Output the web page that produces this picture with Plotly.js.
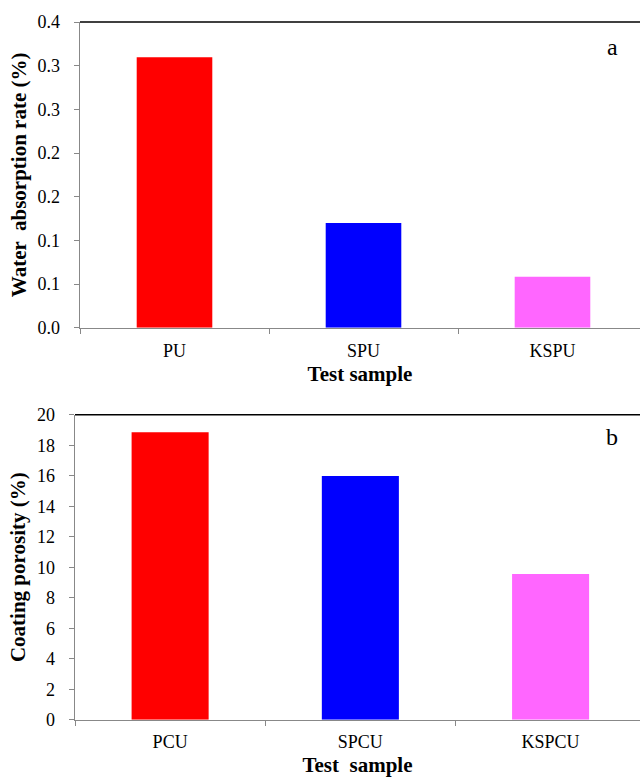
<!DOCTYPE html>
<html>
<head>
<meta charset="utf-8">
<script src="https://cdn.plot.ly/plotly-3.0.1.min.js"></script>
<style>html,body{margin:0;padding:0;background:#fff;}#chart{width:640px;height:777px;}</style>
</head>
<body>
<div id="chart"></div>
<script>
// Panel a: water absorption
const catsA = ["PU", "SPU", "KSPU"];
const valsA = [0.3095, 0.120, 0.0582];
const tickValsA = [0, 0.05, 0.1, 0.15, 0.2, 0.25, 0.3, 0.35];
const tickTextA = ["0.0", "0.1", "0.1", "0.2", "0.2", "0.3", "0.3", "0.4"];
// Panel b: coating porosity
const catsB = ["PCU", "SPCU", "KSPCU"];
const valsB = [18.85, 15.98, 9.55];
const colors = ["#ff0000", "#0000ff", "#ff66ff"];

const font = "'Liberation Serif', 'Times New Roman', serif";

const traces = [
  {type: "bar", x: catsA, y: valsA, marker: {color: colors}, width: 0.4, xaxis: "x", yaxis: "y", hoverinfo: "none"},
  {type: "bar", x: catsB, y: valsB, marker: {color: colors}, width: 0.405, xaxis: "x2", yaxis: "y2", hoverinfo: "none"}
];

function ax(extra) {
  return Object.assign({showline: true, linecolor: "#888888", linewidth: 1.5, ticks: "outside", tickcolor: "#888888", ticklen: 5, tickwidth: 1, showgrid: false, zeroline: false, tickfont: {family: font, size: 18, color: "#000"}}, extra);
}

const topA = 1 - 22/777, botA = 1 - 327.7/777;
const topB = 1 - 414.7/777, botB = 1 - 719.7/777;
const titleFont = {family: font, size: 21, color: "#000"};

const layout = {
  width: 640, height: 777,
  margin: {l: 0, r: 0, t: 0, b: 0},
  paper_bgcolor: "#fff", plot_bgcolor: "#fff",
  showlegend: false,
  font: {family: font, color: "#000"},
  xaxis: ax({domain: [80/640, 1], range: [-0.5, 2.463], anchor: "y", tickson: "boundaries", ticklabelstandoff: 6,
    title: {text: "<b>Test sample</b>", font: titleFont, standoff: 6}}),
  yaxis: ax({domain: [botA, topA], range: [0, 0.35], anchor: "x", tickmode: "array", tickvals: tickValsA, ticktext: tickTextA, ticklabelstandoff: 10,
    title: {text: "<b>Water  absorption rate (%)</b>", font: titleFont, standoff: 5}}),
  xaxis2: ax({domain: [75/640, 1], range: [-0.5, 2.47], anchor: "y2", tickson: "boundaries", ticklabelstandoff: 5,
    title: {text: "<b>Test  sample</b>", font: titleFont, standoff: 6}}),
  yaxis2: ax({domain: [botB, topB], range: [0, 20], anchor: "x2", dtick: 2, tick0: 0, ticklabelstandoff: 10,
    title: {text: "<b>Coating porosity (%)</b>", font: titleFont, standoff: 5}}),
  shapes: [
    {type: "line", xref: "paper", yref: "paper", x0: 80/640, x1: 1, y0: topA, y1: topA, line: {color: "#000", width: 1.5}},
    {type: "line", xref: "paper", yref: "paper", x0: 75/640, x1: 1, y0: topB, y1: topB, line: {color: "#000", width: 1.5}}
  ],
  annotations: [
    {text: "a", xref: "paper", yref: "paper", x: 612/640, y: 1 - 47/777, xanchor: "center", yanchor: "middle", showarrow: false, font: {family: font, size: 24, color: "#000"}},
    {text: "b", xref: "paper", yref: "paper", x: 612/640, y: 1 - 437/777, xanchor: "center", yanchor: "middle", showarrow: false, font: {family: font, size: 24, color: "#000"}}
  ]
};

Plotly.newPlot("chart", traces, layout, {displayModeBar: false, staticPlot: true});
</script>
</body>
</html>
